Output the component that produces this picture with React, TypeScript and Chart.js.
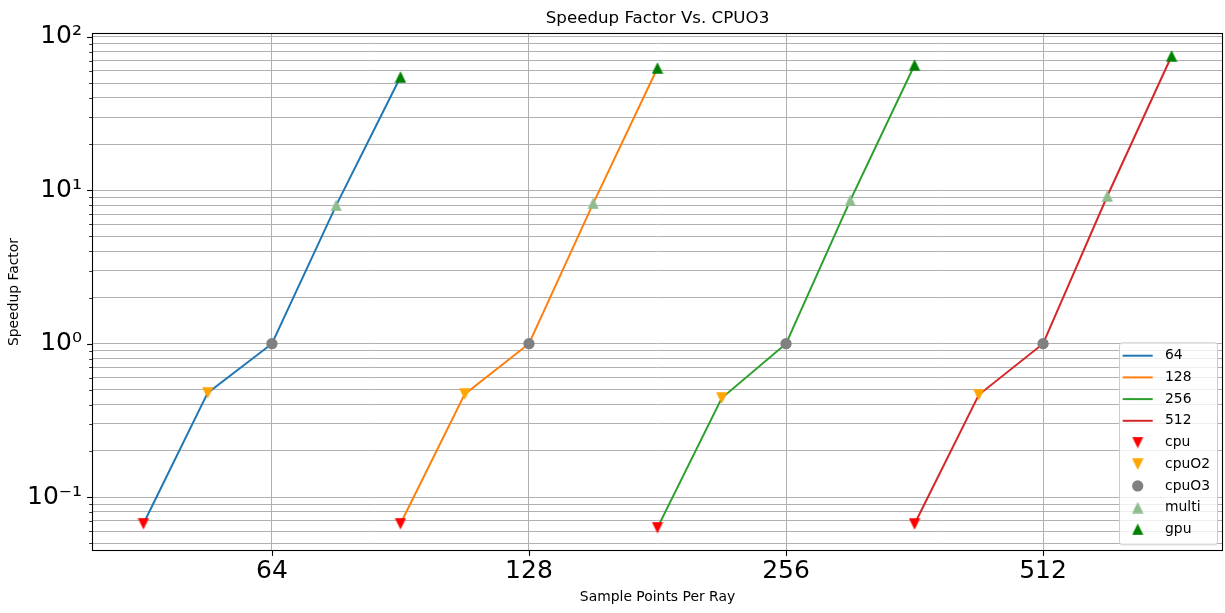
import React, { useEffect, useRef } from 'react';
import { Chart, registerables } from 'chart.js';

Chart.register(...registerables);

// ---- data ----
const categories = ['64', '128', '256', '512'];
const seriesColors = ['#1f77b4', '#ff7f0e', '#2ca02c', '#d62728'];
const stageNames = ['cpu', 'cpuO2', 'cpuO3', 'multi', 'gpu'];
const stageOffsets = [-0.5, -0.25, 0, 0.25, 0.5];
const cpu = [0.067, 0.067, 0.0632, 0.0667];
const cpuO2 = [0.478, 0.469, 0.442, 0.464];
const cpuO3 = [1, 1, 1, 1];
const multi = [7.98, 8.22, 8.6, 9.18];
const gpu = [54.8, 62.7, 65.6, 75.1];
const stageColors = ['#ff0000', '#ffa500', '#808080', '#8fbc8f', '#008000'];
const stageMarkers = ['down', 'down', 'circle', 'up', 'up'];

const yTickValues = [
  0.05, 0.06, 0.07, 0.08, 0.09,
  0.1, 0.2, 0.3, 0.4, 0.5, 0.6, 0.7, 0.8, 0.9,
  1, 2, 3, 4, 5, 6, 7, 8, 9,
  10, 20, 30, 40, 50, 60, 70, 80, 90,
  100,
];
const yMajorValues = [0.1, 1, 10, 100];
const yMajorLabels = ['10⁻¹', '10⁰', '10¹', '10²'];

const FONT = "'DejaVu Sans', sans-serif";

function makeTriangle(color: string, up: boolean): HTMLCanvasElement {
  const c = document.createElement('canvas');
  c.width = 12;
  c.height = 12;
  const g = c.getContext('2d')!;
  g.fillStyle = color;
  g.beginPath();
  if (up) {
    g.moveTo(6, 0.3);
    g.lineTo(11.7, 11.7);
    g.lineTo(0.3, 11.7);
  } else {
    g.moveTo(6, 11.7);
    g.lineTo(11.7, 0.3);
    g.lineTo(0.3, 0.3);
  }
  g.closePath();
  g.fill();
  return c;
}

const framePlugin = {
  id: 'frameAndTicks',
  afterDatasetsDraw(chart: any) {
    const { ctx, chartArea, scales } = chart;
    const { left, right, top, bottom } = chartArea;
    ctx.save();
    ctx.strokeStyle = '#000';
    const yS = scales.y;
    yTickValues.forEach((v) => {
      const major = yMajorValues.indexOf(v) >= 0;
      const py = Math.round(yS.getPixelForValue(v)) + 0.5;
      ctx.lineWidth = major ? 1.1 : 0.8;
      ctx.beginPath();
      ctx.moveTo(left - (major ? 4.9 : 2.8), py);
      ctx.lineTo(left, py);
      ctx.stroke();
    });
    const xS = scales.x;
    categories.forEach((_, i) => {
      const px = Math.round(xS.getPixelForValue(i)) + 0.5;
      ctx.lineWidth = 1.1;
      ctx.beginPath();
      ctx.moveTo(px, bottom);
      ctx.lineTo(px, bottom + 4.9);
      ctx.stroke();
    });
    ctx.lineWidth = 1.1;
    const l = Math.round(left) + 0.5;
    const t = Math.round(top) + 0.5;
    const r = Math.round(right) - 0.5;
    const b = Math.round(bottom) - 0.5;
    ctx.strokeRect(l, t, r - l, b - t);
    ctx.restore();
  },
};

const legendPlugin = {
  id: 'boxLegend',
  afterDraw(chart: any) {
    const { ctx, chartArea } = chart;
    const datasets = chart.data.datasets;
    const w = 98;
    const h = 202;
    const x0 = chartArea.right - 6 - w;
    const y0 = chartArea.bottom - 6.7 - h;
    ctx.save();
    ctx.beginPath();
    ctx.roundRect(x0 + 0.5, y0 + 0.5, w, h, 3);
    ctx.fillStyle = 'rgba(255,255,255,0.8)';
    ctx.fill();
    ctx.strokeStyle = '#cccccc';
    ctx.lineWidth = 1;
    ctx.stroke();
    ctx.font = `13.9px ${FONT}`;
    ctx.textBaseline = 'middle';
    ctx.textAlign = 'left';
    datasets.forEach((ds: any, k: number) => {
      const cy = y0 + 13.4 + k * 21.7;
      const hx0 = x0 + 3.7;
      const hx1 = x0 + 33.7;
      if (ds.showLine) {
        ctx.strokeStyle = ds.borderColor;
        ctx.lineWidth = 2;
        ctx.beginPath();
        ctx.moveTo(hx0, cy);
        ctx.lineTo(hx1, cy);
        ctx.stroke();
      } else {
        const cx = (hx0 + hx1) / 2;
        const st = ds.pointStyle;
        if (st && typeof st === 'object') {
          ctx.drawImage(st, cx - st.width / 2, cy - st.height / 2);
        } else {
          ctx.fillStyle = ds.pointBackgroundColor;
          ctx.beginPath();
          ctx.arc(cx, cy, ds.pointRadius, 0, Math.PI * 2);
          ctx.fill();
        }
      }
      ctx.fillStyle = '#000';
      ctx.fillText(ds.label, x0 + 46, cy);
    });
    ctx.restore();
  },
};

export default function App() {
  const ref = useRef<HTMLCanvasElement>(null);

  useEffect(() => {
    const stageValues = [cpu, cpuO2, cpuO3, multi, gpu];

    const lineSets = categories.map((cat, i) => ({
      label: cat,
      data: stageValues.map((vals, j) => ({ x: i + stageOffsets[j], y: vals[i] })),
      showLine: true,
      borderColor: seriesColors[i],
      backgroundColor: seriesColors[i],
      borderWidth: 2,
      pointRadius: 0,
      pointHoverRadius: 0,
      tension: 0,
      fill: false,
      order: 1,
    }));

    const markerSets = stageNames.map((name, j) => {
      const kind = stageMarkers[j];
      const style =
        kind === 'circle' ? 'circle' : makeTriangle(stageColors[j], kind === 'up');
      return {
        label: name,
        data: categories.map((_, i) => ({ x: i + stageOffsets[j], y: stageValues[j][i] })),
        showLine: false,
        pointStyle: style,
        pointRadius: 5.65,
        pointHoverRadius: 5.65,
        pointBorderWidth: 0,
        pointBackgroundColor: stageColors[j],
        backgroundColor: stageColors[j],
        borderColor: stageColors[j],
        order: 0,
      };
    });

    const chart = new Chart(ref.current!, {
      type: 'scatter',
      data: { datasets: [...lineSets, ...markerSets] as any },
      options: {
        responsive: false,
        animation: false,
        events: [],
        layout: { autoPadding: false, padding: { left: 0, right: 2, top: 0, bottom: 0 } },
        plugins: {
          legend: { display: false },
          tooltip: { enabled: false },
          title: {
            display: true,
            fullSize: false,
            text: 'Speedup Factor Vs. CPUO3',
            color: '#000',
            font: { family: FONT, size: 16.7, weight: 'normal' },
            padding: { top: 9, bottom: 4 },
          },
        },
        scales: {
          x: {
            type: 'linear',
            min: -0.7,
            max: 3.7,
            afterBuildTicks: (s: any) => {
              s.ticks = categories.map((_, i) => ({ value: i }));
            },
            afterFit: (s: any) => {
              s.height = 62;
              s.paddingLeft = 0;
              s.paddingRight = 0;
            },
            ticks: {
              callback: (v: any) => categories[Math.round(Number(v))] ?? '',
              color: '#000',
              font: { family: FONT, size: 25 },
              padding: 5,
              autoSkip: false,
              maxRotation: 0,
            },
            grid: { color: '#b0b0b0', lineWidth: 1, drawTicks: false },
            border: { display: false },
            title: {
              display: true,
              text: 'Sample Points Per Ray',
              color: '#000',
              font: { family: FONT, size: 13.9 },
              padding: { top: 0, bottom: 7 },
            },
          },
          y: {
            type: 'logarithmic',
            min: 0.0445,
            max: 106,
            afterBuildTicks: (s: any) => {
              s.ticks = yTickValues.map((v) => ({ value: v }));
            },
            afterFit: (s: any) => {
              s.width = 92;
              s.paddingTop = 0;
              s.paddingBottom = 0;
            },
            ticks: {
              callback: (v: any) => {
                const k = yMajorValues.indexOf(Number(v));
                return k >= 0 ? yMajorLabels[k] : '';
              },
              color: '#000',
              font: { family: FONT, size: 25 },
              padding: 10,
              autoSkip: false,
            },
            grid: { color: '#b0b0b0', lineWidth: 1, drawTicks: false },
            border: { display: false },
            title: {
              display: true,
              text: 'Speedup Factor',
              color: '#000',
              font: { family: FONT, size: 13.9 },
              padding: { top: 6, bottom: 0 },
            },
          },
        },
      } as any,
      plugins: [framePlugin, legendPlugin],
    });
    return () => chart.destroy();
  }, []);

  return (
    <div style={{ position: 'absolute', left: 0, top: 0, width: 1225, height: 613 }}>
      <canvas
        ref={ref}
        width={1225}
        height={613}
        style={{ display: 'block', width: 1225, height: 613 }}
      />
    </div>
  );
}
